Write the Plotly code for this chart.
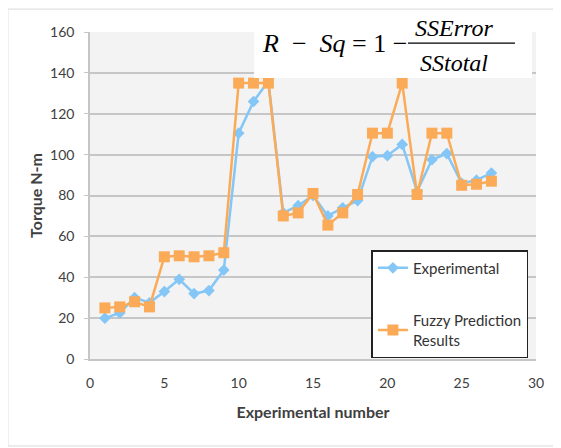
import plotly.graph_objects as go

# 実験番号と測定値
run_no = list(range(1, 28))
experimental = [20, 22.5, 30, 27.5, 33, 39, 32, 33.5, 43.5, 110.5, 126, 136,
                71.5, 75, 80, 70, 74, 77.5, 99, 99.5, 105, 82, 97.5, 100.5,
                86, 87.5, 91]
fuzzy = [25, 25.5, 28, 25.5, 50, 50.5, 50, 50.5, 52, 135, 135, 135,
         70, 71.5, 81, 65.5, 71.5, 80.5, 110.5, 110.5, 135, 80.5, 110.5, 110.5,
         85, 85.5, 87]

x_ticks = [0, 5, 10, 15, 20, 25, 30]
y_ticks = [0, 20, 40, 60, 80, 100, 120, 140, 160]

FONT = "Lato"
SERIF = "Liberation Serif"
BLUE = '#84c6f6'
ORANGE = '#fbab58'

fig = go.Figure()
fig.add_trace(go.Scatter(x=run_no, y=experimental, mode='lines+markers', name='Experimental',
                         legendgroup='a',
                         line=dict(color=BLUE, width=2.5),
                         marker=dict(symbol='diamond', size=9, color=BLUE)))
fig.add_trace(go.Scatter(x=run_no, y=fuzzy, mode='lines+markers', name='Fuzzy Prediction<br>Results',
                         legendgroup='b',
                         line=dict(color=ORANGE, width=2.5),
                         marker=dict(symbol='square', size=11, color=ORANGE)))

# 外枠
fig.add_shape(type='rect', xref='paper', yref='paper', x0=-0.184, x1=1.045, y0=-0.266, y1=1.07,
              line=dict(color='#d9d9d9', width=1), layer='below')
# 数式の白い箱
fig.add_shape(type='rect', xref='paper', yref='paper', x0=0.368, x1=0.991, y0=0.859, y1=1.061,
              line=dict(width=0), fillcolor='white', layer='above')
fig.add_shape(type='line', xref='paper', yref='paper', x0=0.713, x1=0.953, y0=0.966, y1=0.966,
              line=dict(color='black', width=1.3), layer='above')

fig.add_annotation(xref='paper', yref='paper', x=0.381, y=0.965, xanchor='left', yanchor='middle',
                   text='<i>R</i>  −  <i>Sq</i> = 1 −', showarrow=False,
                   font=dict(family=SERIF, size=26, color='black'))
fig.add_annotation(xref='paper', yref='paper', x=0.816, y=1.012, xanchor='center', yanchor='middle',
                   text='<i>SSError</i>', showarrow=False,
                   font=dict(family=SERIF, size=24, color='black'))
fig.add_annotation(xref='paper', yref='paper', x=0.816, y=0.905, xanchor='center', yanchor='middle',
                   text='<i>SStotal</i>', showarrow=False,
                   font=dict(family=SERIF, size=24, color='black'))

fig.update_layout(
    width=553, height=440,
    margin=dict(l=82, r=25, t=24, b=89, autoexpand=False),
    paper_bgcolor='white', plot_bgcolor='#f3f3f3',
    font=dict(family=FONT, size=14, color='#404040'),
    legend=dict(x=0.631, y=0.333, xanchor='left', yanchor='top',
                bgcolor='white', bordercolor='#222222', borderwidth=1.5,
                font=dict(family=FONT, size=15, color='#333333'),
                tracegroupgap=30, itemwidth=30),
    xaxis=dict(range=[0, 30], tickvals=x_ticks, showgrid=False, zeroline=False,
               showline=True, linecolor='#c6c6c6', linewidth=1.5, ticks='',
               ticklabelstandoff=10, automargin=False,
               title=dict(text='<b>Experimental number</b>', font=dict(size=16), standoff=17)),
    yaxis=dict(range=[0, 160], tickvals=y_ticks, showgrid=True, gridcolor='#c6c6c6', gridwidth=2,
               zeroline=False, showline=True, linecolor='#c6c6c6', linewidth=1.5,
               ticks='outside', ticklen=4, tickcolor='#c6c6c6',
               ticklabelstandoff=7, automargin=False,
               title=dict(text='<b>Torque N-m</b>', font=dict(size=16), standoff=3)),
)

fig.write_html("out.html")
